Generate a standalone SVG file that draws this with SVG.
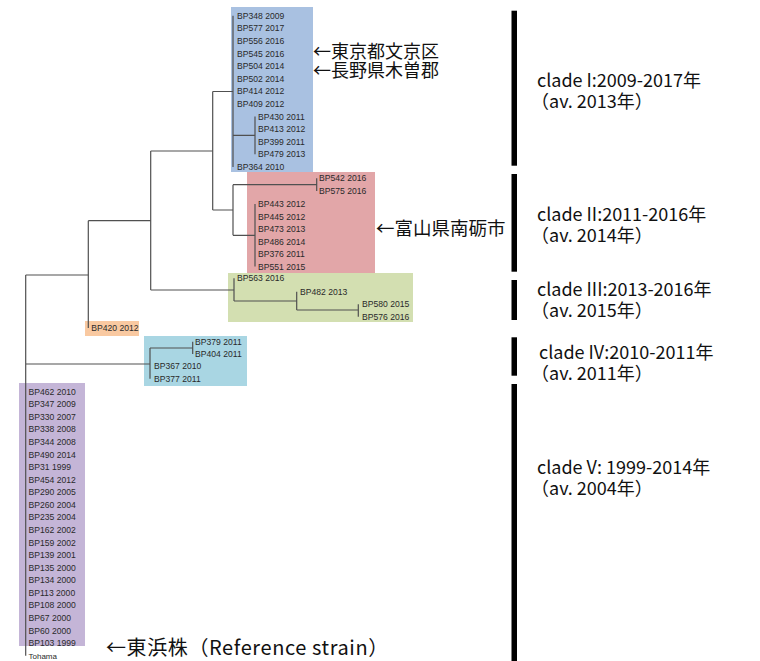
<svg xmlns="http://www.w3.org/2000/svg" width="760" height="661" viewBox="0 0 760 661">
<style>
.leaf{font-family:"Liberation Sans",Arial,sans-serif;font-size:8.6px;fill:#2a2a2a}
.br{fill:none;stroke:#505050;stroke-width:1.2}
.jp{font-family:"Noto Sans CJK JP","Noto Sans",sans-serif;font-size:18px;fill:#111}
.cl{font-family:"Noto Sans CJK JP","Noto Sans",sans-serif;font-size:18px;fill:#111}
.bar{fill:#000}
</style>
<rect width="760" height="661" fill="#fff"/>
<g id="clade1">
<rect x="231" y="7" width="82" height="165" fill="#a9c1e1"/>
<text class="leaf" x="237" y="18.7">BP348 2009</text>
<text class="leaf" x="237" y="31.3">BP577 2017</text>
<text class="leaf" x="237" y="43.9">BP556 2016</text>
<text class="leaf" x="237" y="56.5">BP545 2016</text>
<text class="leaf" x="237" y="69.1">BP504 2014</text>
<text class="leaf" x="237" y="81.7">BP502 2014</text>
<text class="leaf" x="237" y="94.3">BP414 2012</text>
<text class="leaf" x="237" y="106.9">BP409 2012</text>
<text class="leaf" x="258" y="119.5">BP430 2011</text>
<text class="leaf" x="258" y="132.1">BP413 2012</text>
<text class="leaf" x="258" y="144.7">BP399 2011</text>
<text class="leaf" x="258" y="157.3">BP479 2013</text>
<text class="leaf" x="237" y="169.9">BP364 2010</text>
</g>
<g id="clade2">
<rect x="247" y="172" width="128" height="101" fill="#e2a6a8"/>
<text class="leaf" x="319" y="181.3">BP542 2016</text>
<text class="leaf" x="319" y="194">BP575 2016</text>
<text class="leaf" x="258" y="207">BP443 2012</text>
<text class="leaf" x="258" y="219.5">BP445 2012</text>
<text class="leaf" x="258" y="232">BP473 2013</text>
<text class="leaf" x="258" y="244.5">BP486 2014</text>
<text class="leaf" x="258" y="257">BP376 2011</text>
<text class="leaf" x="258" y="269.5">BP551 2015</text>
</g>
<g id="clade3">
<rect x="228" y="273" width="185" height="49" fill="#d3dfb1"/>
<text class="leaf" x="237" y="281.3">BP563 2016</text>
<text class="leaf" x="300" y="294.7">BP482 2013</text>
<text class="leaf" x="362" y="307.3">BP580 2015</text>
<text class="leaf" x="362" y="319.7">BP576 2016</text>
</g>
<g id="bp420">
<rect x="85" y="321" width="54" height="15" fill="#f9c9a1"/>
<text class="leaf" x="91.3" y="331">BP420 2012</text>
</g>
<g id="clade4">
<rect x="144" y="336" width="103" height="50" fill="#a9d6e3"/>
<text class="leaf" x="195" y="344.7">BP379 2011</text>
<text class="leaf" x="195" y="357">BP404 2011</text>
<text class="leaf" x="154" y="369.3">BP367 2010</text>
<text class="leaf" x="154" y="381.7">BP377 2011</text>
</g>
<g id="clade5">
<rect x="19" y="383" width="66" height="263" fill="#c4b5d7"/>
<text class="leaf" x="28.5" y="394.7">BP462 2010</text>
<text class="leaf" x="28.5" y="407.3">BP347 2009</text>
<text class="leaf" x="28.5" y="419.8">BP330 2007</text>
<text class="leaf" x="28.5" y="432.4">BP338 2008</text>
<text class="leaf" x="28.5" y="445">BP344 2008</text>
<text class="leaf" x="28.5" y="457.5">BP490 2014</text>
<text class="leaf" x="28.5" y="470.1">BP31 1999</text>
<text class="leaf" x="28.5" y="482.7">BP454 2012</text>
<text class="leaf" x="28.5" y="495.3">BP290 2005</text>
<text class="leaf" x="28.5" y="507.8">BP260 2004</text>
<text class="leaf" x="28.5" y="520.4">BP235 2004</text>
<text class="leaf" x="28.5" y="533">BP162 2002</text>
<text class="leaf" x="28.5" y="545.5">BP159 2002</text>
<text class="leaf" x="28.5" y="558.1">BP139 2001</text>
<text class="leaf" x="28.5" y="570.7">BP135 2000</text>
<text class="leaf" x="28.5" y="583.3">BP134 2000</text>
<text class="leaf" x="28.5" y="595.8">BP113 2000</text>
<text class="leaf" x="28.5" y="608.4">BP108 2000</text>
<text class="leaf" x="28.5" y="621">BP67 2000</text>
<text class="leaf" x="28.5" y="633.5">BP60 2000</text>
<text class="leaf" x="28.5" y="646.1">BP103 1999</text>
</g>
<g id="tohama">
<text class="leaf" x="28.5" y="658.7" style="font-size:8px">Tohama</text>
</g>
<g id="connectors">
<path class="br" d="M233 15.7V166.9 M233 135.4H255 M255 116.5V154.3"/>
<path class="br" d="M212.7 91.5H233 M212.7 91.5V210 M212.7 210H233"/>
<path class="br" d="M233 184.7V235.3 M233 184.7H316.7 M316.7 178.3V191 M233 235.3H255 M255 204V266.5"/>
<path class="br" d="M150.7 151H212.7 M150.7 151V290 M150.7 290H234"/>
<path class="br" d="M234 278.3V301 M234 301H296.7 M296.7 291.7V310 M296.7 310H358.3 M358.3 304.3V316.7"/>
<path class="br" d="M88.3 220.7H150.7 M88.3 220.7V328"/>
<path class="br" d="M25.7 275H88.3 M25.7 275V655.7 M25.7 364H150"/>
<path class="br" d="M150 348V378.7 M150 348H192.7 M192.7 341.7V354"/>
</g>
<g id="annotations">
<text class="jp" x="313" y="58">←東京都文京区</text>
<text class="jp" x="313" y="76.5">←長野県木曽郡</text>
<text class="jp" x="376" y="235" style="font-size:18.5px">←富山県南砺市</text>
<text class="jp" x="106" y="655" style="font-size:20px;letter-spacing:0.6px">←東浜株（Reference strain）</text>
</g>
<g id="clade-bars">
<rect class="bar" x="511.5" y="10.7" width="5.5" height="155"/>
<rect class="bar" x="511.5" y="174" width="5.5" height="97.7"/>
<rect class="bar" x="511.5" y="280" width="5.5" height="40"/>
<rect class="bar" x="511.5" y="337.3" width="5.5" height="38.4"/>
<rect class="bar" x="511.5" y="384" width="5.5" height="277"/>
</g>
<g id="clade-labels">
<text class="cl" x="537" y="87">clade I:2009-2017年</text>
<text class="cl" x="531" y="108">（av. 2013年）</text>
<text class="cl" x="537" y="221">clade II:2011-2016年</text>
<text class="cl" x="531" y="242">（av. 2014年）</text>
<text class="cl" x="537" y="296">clade III:2013-2016年</text>
<text class="cl" x="531" y="317">（av. 2015年）</text>
<text class="cl" x="539" y="359">clade IV:2010-2011年</text>
<text class="cl" x="531" y="380">（av. 2011年）</text>
<text class="cl" x="537" y="474">clade V: 1999-2014年</text>
<text class="cl" x="531" y="495">（av. 2004年）</text>
</g>
</svg>
